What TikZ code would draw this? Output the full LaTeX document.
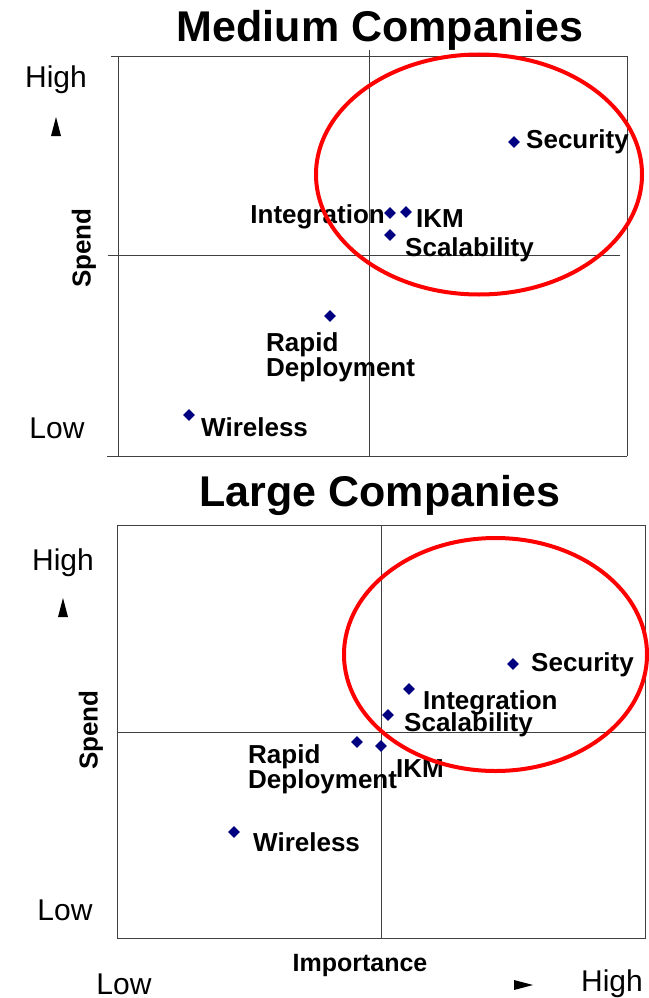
\documentclass[tikz,border=0pt]{standalone}
\usepackage{fontspec}
\setmainfont{Liberation Sans}
\usetikzlibrary{shapes.geometric}
\definecolor{dotblue}{RGB}{0,0,128}
\definecolor{ringred}{RGB}{255,0,0}
\tikzset{
  spot/.style={diamond, fill=dotblue, inner sep=0pt, minimum size=12pt},
  lbl/.style={font=\fontsize{26}{22}\selectfont\bfseries, inner sep=0pt},
  ttl/.style={font=\fontsize{43}{43}\selectfont\bfseries, inner sep=0pt},
  lvl/.style={font=\fontsize{30}{30}\selectfont, inner sep=0pt},
  axl/.style={font=\fontsize{25}{25}\selectfont\bfseries, inner sep=0pt},
  grid/.style={black!75, line width=1pt},
  ring/.style={ringred, line width=4pt}
}
\begin{document}
\begin{tikzpicture}[x=1pt, y=-1pt]
\useasboundingbox (0,0) rectangle (648,998);
% medium companies
\node[ttl] (ttlm) at (380,30) {Medium Companies};
\draw[grid] (111,57)--(627,57)--(627,456);
\draw[grid] (118,57)--(118,456);
\draw[grid] (107,456)--(627,456);
\draw[grid] (369,50)--(369,456);
\draw[grid] (108,255)--(620,255);
\node[lvl] (him) at (56,80) {High};
\fill (51,136)--(61,136)--(56,117)--cycle;
\node[lbl, rotate=90] (spm) at (84,248) {Spend};
\node[lvl] (lom) at (57,428) {Low};
\foreach \x/\y/\n in {514/142/sec, 390/213/int, 406/212/ikm, 390/235/sca, 330/316/rap, 189/415/wir}
{
    \node[spot] (m\n) at (\x,\y) {};
}
\node[lbl, anchor=west] (lmsec) at (526,142) {Security};
\node[lbl, anchor=east] (lmint) at (385,217) {Integration};
\node[lbl, anchor=west] (lmikm) at (416,219) {IKM};
\node[lbl, anchor=west] (lmsca) at (405,250) {Scalability};
\node[lbl, anchor=north west, align=left] (lmrap) at (266,332) {Rapid\\Deployment};
\node[lbl, anchor=west] (lmwir) at (201,427) {Wireless};
\draw[ring] (479,174.5) ellipse [x radius=163, y radius=120];
% large companies
\node[ttl] (ttll) at (380,495) {Large Companies};
\draw[grid] (117,525) rectangle (645,938);
\draw[grid] (381,525)--(381,938);
\draw[grid] (117,732)--(645,732);
\node[lvl] (hil) at (63,563) {High};
\fill (58,617)--(68,617)--(63,598)--cycle;
\node[lbl, rotate=90] (spl) at (91,730) {Spend};
\node[lvl] (lol) at (65,910) {Low};
\foreach \x/\y/\n in {513/664/sec, 409/689/int, 388/715/sca, 357/742/rap, 381/746/ikm, 234/832/wir}
{
    \node[spot] (l\n) at (\x,\y) {};
}
\node[lbl, anchor=west] (llsec) at (531,665) {Security};
\node[lbl, anchor=west] (llint) at (423,703) {Integration};
\node[lbl, anchor=west] (llsca) at (404,725) {Scalability};
\node[lbl, anchor=west] (llikm) at (396,769) {IKM};
\node[lbl, anchor=north west, align=left] (llrap) at (248,744) {Rapid\\Deployment};
\node[lbl, anchor=west] (llwir) at (253,842) {Wireless};
\draw[ring] (495.5,654.5) ellipse [x radius=151.5, y radius=116.5];
% importance axis
\node[axl] (imp) at (360,965) {Importance};
\node[lvl] (lox) at (124,984) {Low};
\fill (514,980)--(514,990)--(533,985)--cycle;
\node[lvl] (hix) at (612,984) {High};
\end{tikzpicture}
\end{document}
